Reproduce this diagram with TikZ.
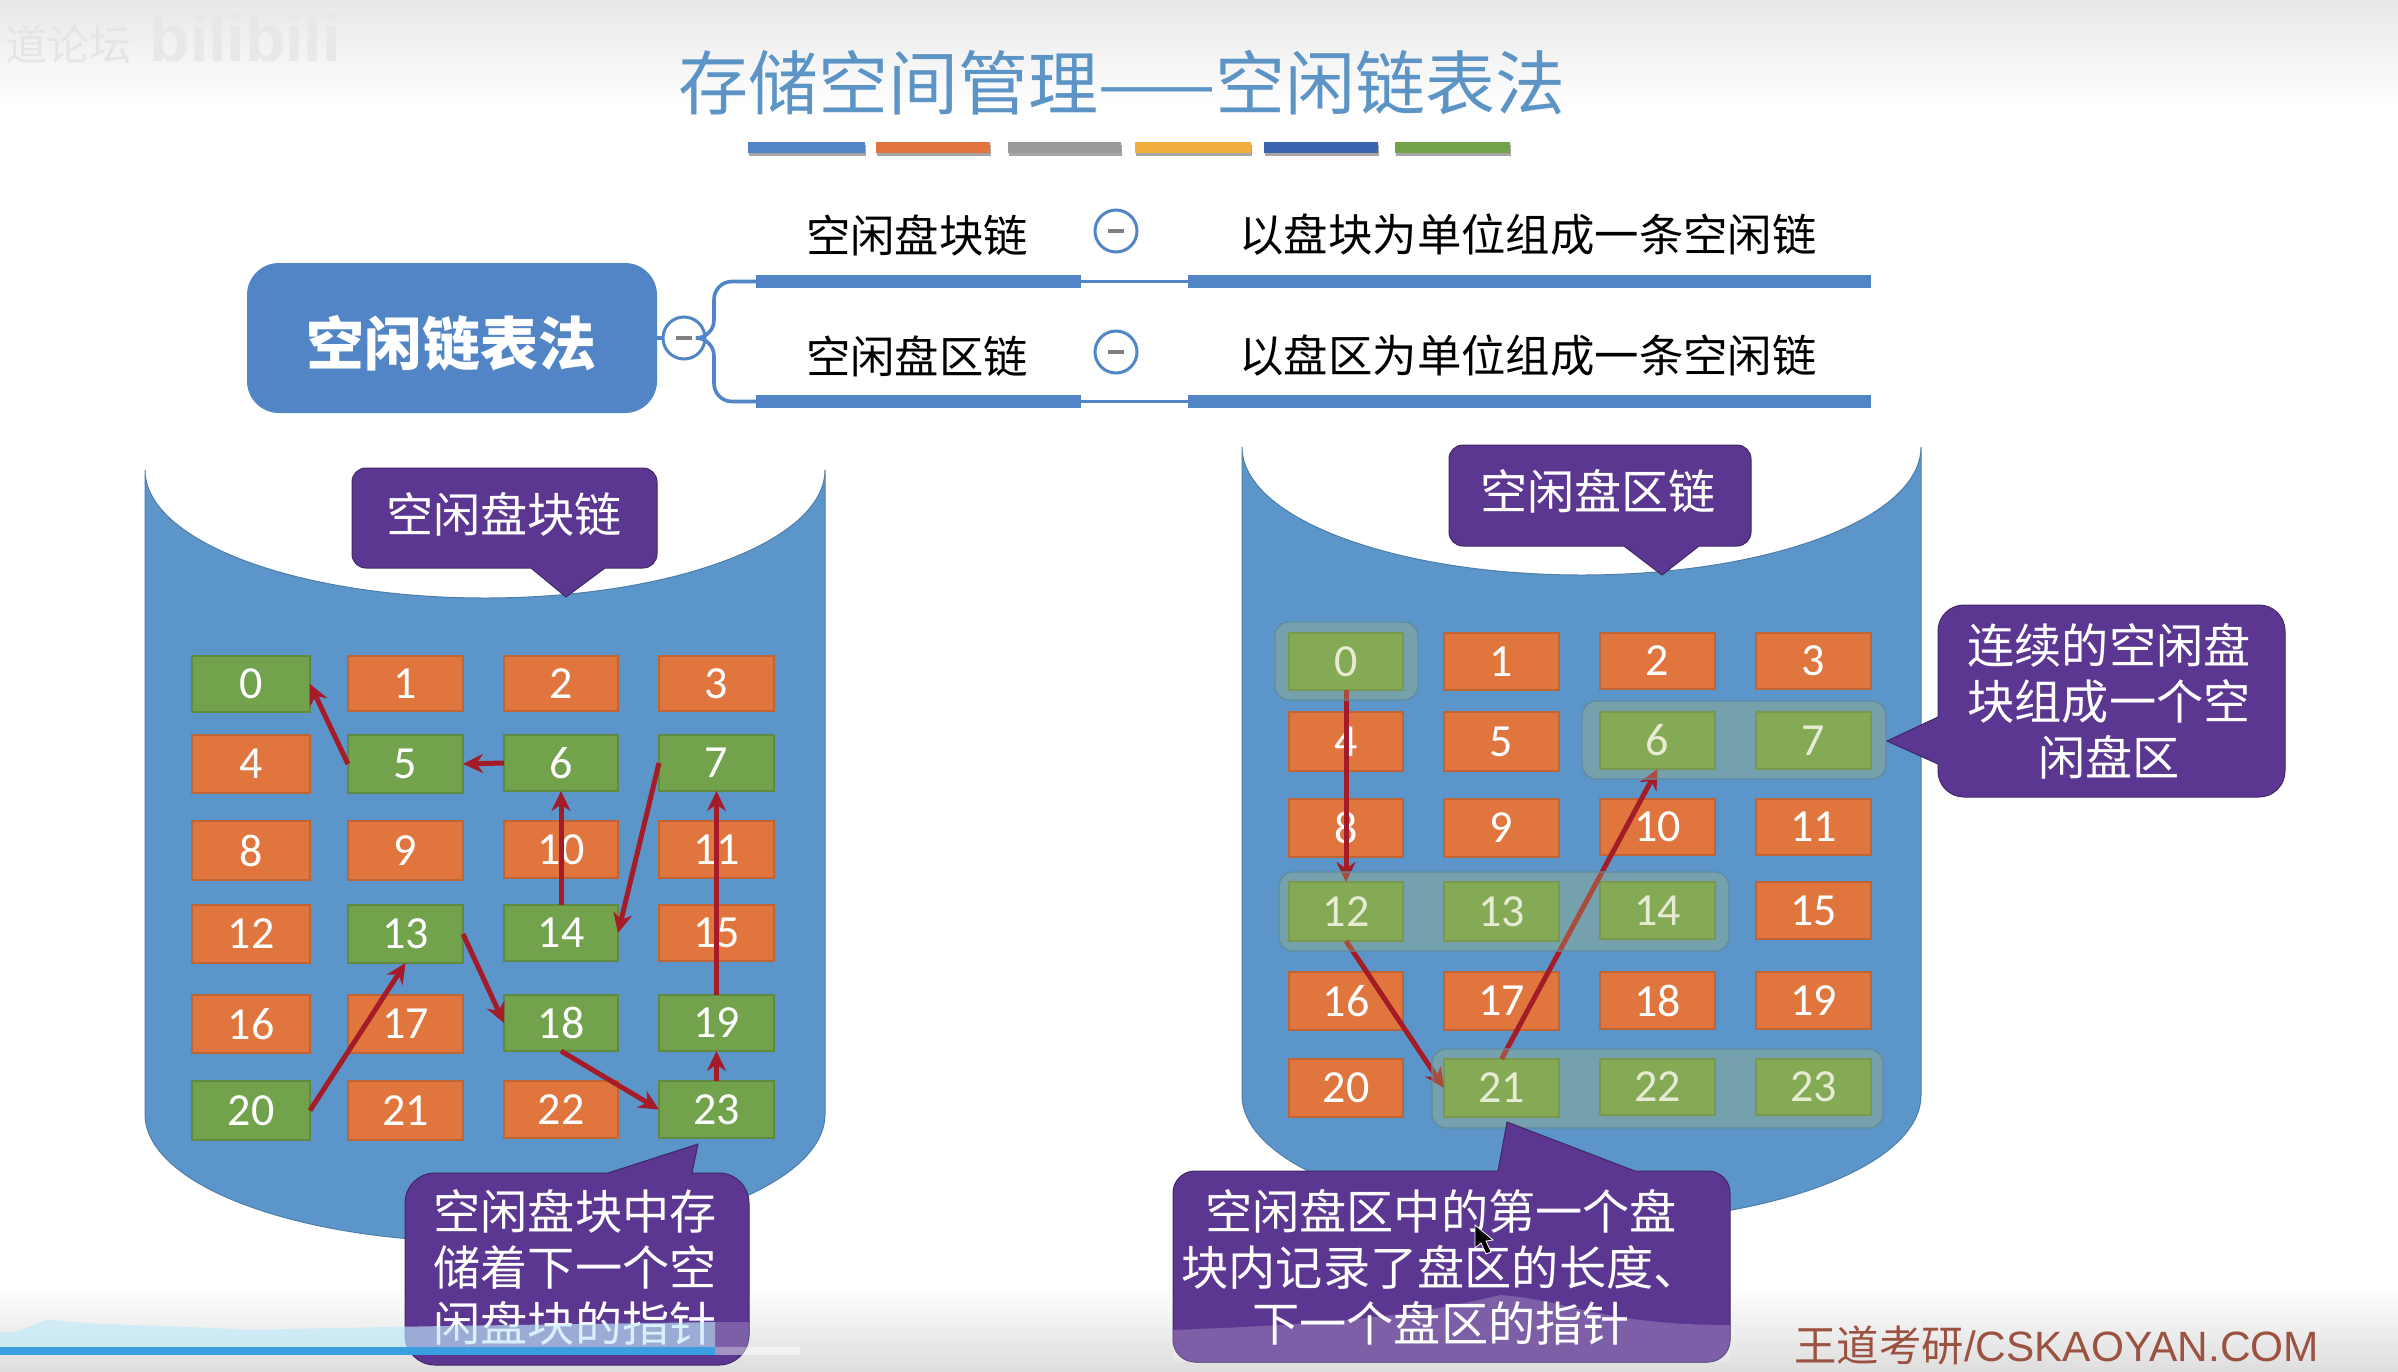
\documentclass[tikz,border=0pt]{standalone}
\usepackage{fontspec}
\usetikzlibrary{arrows.meta,shadows}
\newfontfamily\cjk{Noto Sans CJK SC}
\newfontfamily\numf{Carlito}
\newfontfamily\latf{Liberation Sans}
\definecolor{diskblue}{HTML}{5B95C9}
\definecolor{rootblue}{HTML}{5185C5}
\definecolor{cellor}{HTML}{E0763E}
\definecolor{cellgr}{HTML}{72A24C}
\definecolor{calpur}{HTML}{5C3791}
\definecolor{arrred}{HTML}{A51C28}
\definecolor{titleblue}{HTML}{5D94C6}
\definecolor{grpfill}{HTML}{B4BE6E}
\definecolor{grpline}{HTML}{5F8CA0}
\definecolor{wmred}{HTML}{9C5240}
\definecolor{ribyellow}{HTML}{F0AE3C}
\definecolor{ribblue}{HTML}{3D64AE}
\newcommand{\pcell}[7]{%
  \pgfmathsetmacro\mycx{(#3+#5)/2}\pgfmathsetmacro\mycy{(#4+#6)/2}%
  \node[#2,minimum width=(#5-#3)*0.5pt,minimum height=(#6-#4)*0.5pt] (#1) at (\mycx,\mycy) {#7};}
\tikzset{
  x=0.5pt,y=-0.5pt,
  cellbase/.style={rectangle,inner sep=0pt,outer sep=0pt,text=white,font=\numf\fontsize{23}{28}\selectfont,line width=0.6pt},
  org/.style={cellbase,fill=cellor,draw=cellor!85!black},
  grn/.style={cellbase,fill=cellgr,draw=cellgr!85!black},
  ptr/.style={draw=arrred,line width=2.5pt,-{Stealth[length=10pt,width=9.5pt]}},
  grp/.style={rectangle,rounded corners=7pt,inner sep=0pt,outer sep=0pt,fill=grpfill,fill opacity=0.3,draw=grpline,line width=0.7pt},
  disk/.style={fill=diskblue,draw=diskblue!85!black,line width=0.5pt},
  callout/.style={fill=calpur,draw=calpur!70!black,line width=0.5pt},
  caltext/.style={text=white,align=center,inner sep=0pt,font=\cjk\fontsize{23.6}{28}\selectfont},
  bar/.style={rectangle,inner sep=0pt,outer sep=0pt,minimum height=6.5pt,fill=rootblue},
  thin link/.style={draw=rootblue,line width=1.8pt},
  minus/.style={circle,draw=rootblue,line width=1.5pt,fill=white,inner sep=0pt,outer sep=0pt,minimum size=21pt},
  treetext/.style={inner sep=0pt,text=black,font=\cjk\fontsize{22.2}{26}\selectfont},
  rib/.style={rectangle,inner sep=0pt,outer sep=0pt,minimum height=5.5pt,drop shadow={shadow xshift=0.5pt,shadow yshift=-1.5pt,opacity=0.35,fill=black}},
}
\newcommand{\minusmark}{\textcolor{gray}{\rule[0pt]{8pt}{1.8pt}}}
\begin{document}
\begin{tikzpicture}
\useasboundingbox (0,0) rectangle (2398,1371);
\fill[white] (0,0) rectangle (2398,1371);
% video overlays behind content
\shade[top color=black!9,bottom color=white] (0,0) rectangle (2398,110);
\shade[top color=white,bottom color=black!13] (0,1285) rectangle (2398,1371);
\node[text=black!10,inner sep=0pt,font=\cjk\fontsize{21}{25}\selectfont] (wmA) at (68,44) {道论坛};
\node[text=black!9,inner sep=0pt,font=\latf\bfseries\fontsize{33}{37}\selectfont] (wmB) at (245,38) {bilibili};
% title
\node[text=titleblue,inner sep=0pt,font=\cjk\fontsize{35}{40}\selectfont] (title) at (1122,83) {存储空间管理——空闲链表法};
\pcell{r1}{rib,fill=rootblue}{748}{142}{865}{153}{}
\pcell{r2}{rib,fill=cellor}{876}{142}{990}{153}{}
\pcell{r3}{rib,fill=black!40}{1008}{142}{1121}{153}{}
\pcell{r4}{rib,fill=ribyellow}{1135}{142}{1251}{153}{}
\pcell{r5}{rib,fill=ribblue}{1264}{142}{1378}{153}{}
\pcell{r6}{rib,fill=cellgr}{1395}{142}{1510}{153}{}
% tree
\node[rectangle,rounded corners=16pt,fill=rootblue,inner sep=0pt,outer sep=0pt,minimum width=205pt,minimum height=75pt] (root) at (452,338) {};
\node[text=white,inner sep=0pt,font=\cjk\bfseries\fontsize{29}{32}\selectfont] (rootlab) at (451,343) {空闲链表法};
\node[minus] (m0) at (684,338) {\minusmark};
\pcell{b1L}{bar}{756}{275}{1081}{288}{}
\pcell{b1R}{bar}{1188}{275}{1871}{288}{}
\pcell{b2L}{bar}{756}{395}{1081}{408}{}
\pcell{b2R}{bar}{1188}{395}{1871}{408}{}
\draw[thin link] (root.east) -- (m0.west);
\draw[thin link,rounded corners=9pt] (m0.east) -- ++(9,0) |- (b1L.west);
\draw[thin link,rounded corners=9pt] (m0.east) -- ++(9,0) |- (b2L.west);
\draw[thin link] (b1L.east) -- (b1R.west);
\draw[thin link] (b2L.east) -- (b2R.west);
\node[minus] (m1) at (1116,231) {\minusmark};
\node[minus] (m2) at (1116,352) {\minusmark};
\node[treetext] (t1) at (917,235) {空闲盘块链};
\node[treetext] (t2) at (917,356) {空闲盘区链};
\node[treetext] (t3) at (1528,235) {以盘块为单位组成一条空闲链};
\node[treetext] (t4) at (1528,356) {以盘区为单位组成一条空闲链};
% disks
\path[disk] (145,470) .. controls (145,541) and (297,598) .. (485,598) .. controls (673,598) and (825,541) .. (825,470) -- (825,1114) .. controls (825,1185) and (673,1242) .. (485,1242) .. controls (297,1242) and (145,1185) .. (145,1114) -- cycle;
\path[disk] (1242,447) .. controls (1242,518) and (1394,575) .. (1582,575) .. controls (1770,575) and (1921,518) .. (1921,447) -- (1921,1095) .. controls (1921,1166) and (1770,1223) .. (1582,1223) .. controls (1394,1223) and (1242,1166) .. (1242,1095) -- cycle;
% left grid
\pcell{a0}{grn}{192}{656}{310}{712}{0}
\pcell{a1}{org}{348}{656}{463}{711}{1}
\pcell{a2}{org}{504}{656}{618}{711}{2}
\pcell{a3}{org}{659}{656}{774}{711}{3}
\pcell{a4}{org}{192}{735}{310}{793}{4}
\pcell{a5}{grn}{348}{735}{463}{793}{5}
\pcell{a6}{grn}{504}{735}{618}{791}{6}
\pcell{a7}{grn}{659}{735}{774}{791}{7}
\pcell{a8}{org}{192}{821}{310}{880}{8}
\pcell{a9}{org}{348}{821}{463}{880}{9}
\pcell{a10}{org}{504}{821}{618}{878}{10}
\pcell{a11}{org}{659}{821}{774}{878}{11}
\pcell{a12}{org}{192}{905}{310}{963}{12}
\pcell{a13}{grn}{348}{905}{463}{963}{13}
\pcell{a14}{grn}{504}{905}{618}{961}{14}
\pcell{a15}{org}{659}{905}{774}{961}{15}
\pcell{a16}{org}{192}{995}{310}{1053}{16}
\pcell{a17}{org}{348}{995}{463}{1053}{17}
\pcell{a18}{grn}{504}{995}{618}{1051}{18}
\pcell{a19}{grn}{659}{995}{774}{1051}{19}
\pcell{a20}{grn}{192}{1081}{310}{1140}{20}
\pcell{a21}{org}{348}{1081}{463}{1140}{21}
\pcell{a22}{org}{504}{1081}{618}{1138}{22}
\pcell{a23}{grn}{659}{1081}{774}{1138}{23}
\draw[ptr] (a5.west) -- (a0.east);
\draw[ptr] (a6.west) -- (a5.east);
\draw[ptr] (a14.north) -- (a6.south);
\draw[ptr] (a7.west) -- (a14.east);
\draw[ptr] (a19.north) -- (a7.south);
\draw[ptr] (a13.east) -- (a18.west);
\draw[ptr] (a18.south) -- (a23.west);
\draw[ptr] (a23.north) -- (a19.south);
\draw[ptr] (a20.east) -- (a13.south);
% right grid
\pcell{c0}{grn}{1289}{633}{1403}{690}{0}
\pcell{c1}{org}{1444}{633}{1559}{690}{1}
\pcell{c2}{org}{1600}{633}{1715}{689}{2}
\pcell{c3}{org}{1756}{633}{1871}{689}{3}
\pcell{c4}{org}{1289}{712}{1403}{771}{4}
\pcell{c5}{org}{1444}{712}{1559}{771}{5}
\pcell{c6}{grn}{1600}{712}{1715}{769}{6}
\pcell{c7}{grn}{1756}{712}{1871}{769}{7}
\pcell{c8}{org}{1289}{799}{1403}{857}{8}
\pcell{c9}{org}{1444}{799}{1559}{857}{9}
\pcell{c10}{org}{1600}{799}{1715}{855}{10}
\pcell{c11}{org}{1756}{799}{1871}{855}{11}
\pcell{c12}{grn}{1289}{882}{1403}{941}{12}
\pcell{c13}{grn}{1444}{882}{1559}{941}{13}
\pcell{c14}{grn}{1600}{882}{1715}{939}{14}
\pcell{c15}{org}{1756}{882}{1871}{939}{15}
\pcell{c16}{org}{1289}{972}{1403}{1030}{16}
\pcell{c17}{org}{1444}{972}{1559}{1030}{17}
\pcell{c18}{org}{1600}{972}{1715}{1029}{18}
\pcell{c19}{org}{1756}{972}{1871}{1029}{19}
\pcell{c20}{org}{1289}{1059}{1403}{1117}{20}
\pcell{c21}{grn}{1444}{1059}{1559}{1117}{21}
\pcell{c22}{grn}{1600}{1059}{1715}{1115}{22}
\pcell{c23}{grn}{1756}{1059}{1871}{1115}{23}
\draw[ptr] (c0.south) -- (c12.north);
\draw[ptr] (c12.south) -- (c21.west);
\draw[ptr] (c21.north) -- (c6.south);
\pcell{g0}{grp}{1275}{622}{1418}{700}{}
\pcell{g1}{grp}{1582}{701}{1886}{779}{}
\pcell{g2}{grp}{1279}{872}{1729}{951}{}
\pcell{g3}{grp}{1432}{1049}{1883}{1128}{}
% callouts
\path[callout] (500,468) [rounded corners=7pt] -- (657,468) -- (657,568) [sharp corners] -- (605,568) -- (566,597) -- (531,568) [rounded corners=7pt] -- (352,568) -- (352,468) -- cycle;
\node[caltext] (ca) at (504,514) {空闲盘块链};
\path[callout] (1600,445) [rounded corners=7pt] -- (1751,445) -- (1751,546) [sharp corners] -- (1699,546) -- (1662,575) -- (1624,546) [rounded corners=7pt] -- (1449,546) -- (1449,445) -- cycle;
\node[caltext] (cb) at (1598,491) {空闲盘区链};
\path[callout] (2110,605) [rounded corners=13pt] -- (2285,605) -- (2285,797) -- (1938,797) [sharp corners] -- (1938,764) -- (1887,741) -- (1938,717) [rounded corners=13pt] -- (1938,605) -- cycle;
\node[caltext] (cc) at (2109,701) {连续的空闲盘\\块组成一个空\\闲盘区};
\path[callout] (550,1173) [rounded corners=0pt] -- (608,1173) -- (698,1144) -- (692,1173) [rounded corners=15pt] -- (749,1173) -- (749,1365) -- (405,1365) -- (405,1173) -- cycle;
\node[caltext] (cd) at (575,1267) {空闲盘块中存\\储着下一个空\\闲盘块的指针};
\path[callout] (1400,1171) -- (1498,1171) -- (1507,1122) -- (1635,1171) [rounded corners=11pt] -- (1730,1171) -- (1730,1362) -- (1173,1362) -- (1173,1171) -- cycle;
\node[caltext] (ce) at (1441,1267) {空闲盘区中的第一个盘\\块内记录了盘区的长度、\\下一个盘区的指针};
% video overlays in front
\path[fill=cyan!25!white,fill opacity=0.65] (0,1332) .. controls (30,1334) and (35,1318) .. (55,1320) .. controls (100,1326) and (150,1324) .. (250,1330) .. controls (400,1326) and (600,1324) .. (715,1322) -- (715,1347) -- (0,1347) -- cycle;
\path[fill=white,fill opacity=0.2] (715,1322) -- (749,1322) -- (749,1347) -- (715,1347) -- cycle;
\path[fill=white,fill opacity=0.2] (1173,1330) .. controls (1300,1325) and (1400,1320) .. (1500,1295) .. controls (1570,1300) and (1600,1325) .. (1730,1325) -- (1730,1362) -- (1173,1362) -- cycle;
\fill[white,opacity=0.45] (715,1347) rectangle (800,1355);
\fill[cyan!75!blue!80!white] (0,1347) rectangle (715,1355);
% pointer
\path[fill=black,draw=white,line width=0.4pt] (1475,1225) -- (1475,1248) -- (1481,1243) -- (1486,1254) -- (1491,1252) -- (1486,1241) -- (1493,1240) -- cycle;
% watermark
\node[inner sep=0pt,text=wmred,anchor=west,font=\fontsize{21.2}{24}\selectfont] (wm) at (1794,1345) {{\cjk 王道考研}{\latf /CSKAOYAN.COM}};
\end{tikzpicture}
\end{document}
